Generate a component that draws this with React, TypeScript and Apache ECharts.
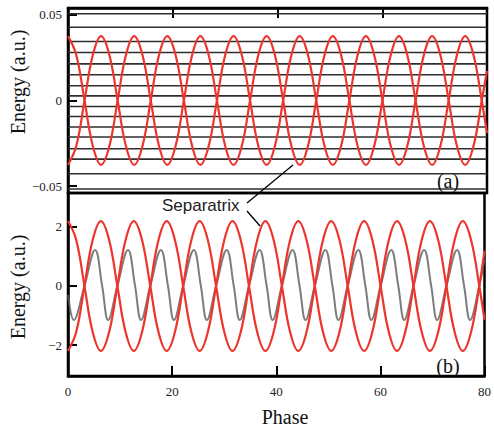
import React, { useEffect, useRef } from "react";
import * as echarts from "echarts";

// Phase sample points (quarter half-period steps) for the separatrix curves
const phaseGrid = [
  0, 1.58, 3.16, 4.74, 6.32, 7.9, 9.48, 11.06, 12.64, 14.22, 15.8, 17.38, 18.96,
  20.54, 22.12, 23.7, 25.28, 26.86, 28.44, 30.02, 31.6, 33.18, 34.76, 36.34,
  37.92, 39.5, 41.08, 42.66, 44.24, 45.82, 47.4, 48.98, 50.56, 52.14, 53.72,
  55.3, 56.88, 58.46, 60.04, 61.62, 63.2, 64.78, 66.36, 67.94, 69.52, 71.1,
  72.68, 74.26, 75.84, 77.42, 79.0, 80,
];

// (a) separatrix, upper-starting and lower-starting branches
const sepTopUpper = [
  0.0376, 0.0266, 0, -0.0266, -0.0376, -0.0266, 0, 0.0266,
  0.0376, 0.0266, 0, -0.0266, -0.0376, -0.0266, 0, 0.0266,
  0.0376, 0.0266, 0, -0.0266, -0.0376, -0.0266, 0, 0.0266,
  0.0376, 0.0266, 0, -0.0266, -0.0376, -0.0266, 0, 0.0266,
  0.0376, 0.0266, 0, -0.0266, -0.0376, -0.0266, 0, 0.0266,
  0.0376, 0.0266, 0, -0.0266, -0.0376, -0.0266, 0, 0.0266,
  0.0376, 0.0266, 0, -0.019,
];
const sepTopLower = [
  -0.0376, -0.0266, 0, 0.0266, 0.0376, 0.0266, 0, -0.0266,
  -0.0376, -0.0266, 0, 0.0266, 0.0376, 0.0266, 0, -0.0266,
  -0.0376, -0.0266, 0, 0.0266, 0.0376, 0.0266, 0, -0.0266,
  -0.0376, -0.0266, 0, 0.0266, 0.0376, 0.0266, 0, -0.0266,
  -0.0376, -0.0266, 0, 0.0266, 0.0376, 0.0266, 0, -0.0266,
  -0.0376, -0.0266, 0, 0.0266, 0.0376, 0.0266, 0, -0.0266,
  -0.0376, -0.0266, 0, 0.0174,
];

// (b) separatrix
const sepBotUpper = [
  2.2, 1.56, 0, -1.56, -2.2, -1.56, 0, 1.56,
  2.2, 1.56, 0, -1.56, -2.2, -1.56, 0, 1.56,
  2.2, 1.56, 0, -1.56, -2.2, -1.56, 0, 1.56,
  2.2, 1.56, 0, -1.56, -2.2, -1.56, 0, 1.56,
  2.2, 1.56, 0, -1.56, -2.2, -1.56, 0, 1.56,
  2.2, 1.56, 0, -1.56, -2.2, -1.56, 0, 1.56,
  2.2, 1.56, 0, -1.15,
];
const sepBotLower = [
  -2.2, -1.56, 0, 1.56, 2.2, 1.56, 0, -1.56,
  -2.2, -1.56, 0, 1.56, 2.2, 1.56, 0, -1.56,
  -2.2, -1.56, 0, 1.56, 2.2, 1.56, 0, -1.56,
  -2.2, -1.56, 0, 1.56, 2.2, 1.56, 0, -1.56,
  -2.2, -1.56, 0, 1.56, 2.2, 1.56, 0, -1.56,
  -2.2, -1.56, 0, 1.56, 2.2, 1.56, 0, -1.56,
  -2.2, -1.56, 0, 1.2,
];

// (a) trajectory energy levels (flat lines)
const trajectoryLevels = [
  0.0506, 0.0428, 0.0344, 0.028, 0.0214, 0.015, 0.0086, 0.0027, -0.0035,
  -0.0093, -0.0155, -0.0213, -0.0282, -0.0342, -0.0428, -0.0517,
];

// (b) particle trajectory (phase, energy) key points
const particlePhase = [
  0, 1.1,
  3.16, 5.21, 6.56, 7.71,
  9.48, 11.53, 12.88, 14.03,
  15.8, 17.85, 19.2, 20.35,
  22.12, 24.17, 25.52, 26.67,
  28.44, 30.49, 31.84, 32.99,
  34.76, 36.81, 38.16, 39.31,
  41.08, 43.13, 44.48, 45.63,
  47.4, 49.45, 50.8, 51.95,
  53.72, 55.77, 57.12, 58.27,
  60.04, 62.09, 63.44, 64.59,
  66.36, 68.41, 69.76, 70.91,
  72.68, 74.73, 76.08, 77.23,
  79.0, 80,
];
const particleEnergy = [
  -0.3, -1.15,
  0, 1.22, 0, -1.15,
  0, 1.22, 0, -1.15,
  0, 1.22, 0, -1.15,
  0, 1.22, 0, -1.15,
  0, 1.22, 0, -1.15,
  0, 1.22, 0, -1.15,
  0, 1.22, 0, -1.15,
  0, 1.22, 0, -1.15,
  0, 1.22, 0, -1.15,
  0, 1.22, 0, -1.15,
  0, 1.22, 0, -1.15,
  0, 1.22, 0, -1.15,
  0, 0.9,
];

const yTicksTop = [-0.05, 0, 0.05];
const yTicksBottom = [-2, 0, 2];

const serif = '"Liberation Serif", "Times New Roman", Times, serif';
const sans = '"Liberation Sans", Arial, Helvetica, sans-serif';
const RED = "#ec352c";

function fmt(v: number) {
  if (v === 0) return "0";
  return (v < 0 ? "\u2212" : "") + String(Math.abs(v));
}

export default function App() {
  const ref = useRef<HTMLDivElement>(null);
  useEffect(() => {
    document.body.style.margin = "0";
    if (!ref.current) return;
    const chart = echarts.init(ref.current, undefined, { renderer: "svg" });
    const axisLine = { show: true, onZero: false, lineStyle: { color: "#000", width: 2.5 } };
    const tick = { show: true, inside: true, length: 10, lineStyle: { color: "#000", width: 2 } };
    const zip = (xs: number[], ys: number[]) => xs.map((x, i) => [x, ys[i]]);

    const series: any[] = [];
    trajectoryLevels.forEach((lv) => {
      series.push({
        type: "line",
        xAxisIndex: 0,
        yAxisIndex: 0,
        data: [[0, lv], [80, lv]],
        symbol: "none",
        silent: true,
        lineStyle: { color: "#2e2e2e", width: 1.6 },
        z: 2,
      });
    });
    [sepTopUpper, sepTopLower].forEach((ys) =>
      series.push({
        type: "line",
        xAxisIndex: 0,
        yAxisIndex: 0,
        data: zip(phaseGrid, ys),
        symbol: "none",
        smooth: 0.4,
        silent: true,
        lineStyle: { color: RED, width: 2.2 },
        z: 3,
      })
    );
    series.push({
      type: "line",
      xAxisIndex: 1,
      yAxisIndex: 1,
      data: zip(particlePhase, particleEnergy),
      symbol: "none",
      smooth: 0.4,
      silent: true,
      lineStyle: { color: "#5c5c5c", width: 2, opacity: 0.8 },
      z: 2,
    });
    [sepBotUpper, sepBotLower].forEach((ys) =>
      series.push({
        type: "line",
        xAxisIndex: 1,
        yAxisIndex: 1,
        data: zip(phaseGrid, ys),
        symbol: "none",
        smooth: 0.4,
        silent: true,
        lineStyle: { color: RED, width: 2.2 },
        z: 3,
      })
    );

    chart.setOption({
      animation: false,
      backgroundColor: "#fff",
      grid: [
        { left: 68, right: 7, top: 8, height: 185, show: true, borderColor: "#000", borderWidth: 2.5 },
        { left: 68, right: 7, top: 193, height: 183, show: true, borderColor: "#000", borderWidth: 2.5 },
      ],
      xAxis: [
        {
          type: "value", gridIndex: 0, min: 0, max: 80, interval: 20, position: "top",
          axisLine, axisTick: tick, axisLabel: { show: false }, splitLine: { show: false },
        },
        {
          type: "value", gridIndex: 1, min: 0, max: 80, interval: 20, position: "bottom",
          axisLine, axisTick: tick,
          axisLabel: { show: true, color: "#222", fontFamily: serif, fontSize: 13, margin: 9 },
          splitLine: { show: false },
        },
      ],
      yAxis: [
        {
          type: "value", gridIndex: 0, min: -0.054, max: 0.054,
          axisLine, axisTick: { ...tick, length: 9, customValues: yTicksTop },
          axisLabel: { customValues: yTicksTop, formatter: fmt, color: "#222", fontFamily: serif, fontSize: 13, margin: 6 },
          splitLine: { show: false },
        },
        {
          type: "value", gridIndex: 1, min: -3.05, max: 3.15,
          axisLine, axisTick: { ...tick, length: 9, customValues: yTicksBottom },
          axisLabel: { customValues: yTicksBottom, formatter: fmt, color: "#222", fontFamily: serif, fontSize: 13, margin: 6 },
          splitLine: { show: false },
        },
      ],
      series,
      graphic: [
        {
          type: "text", x: 18, y: 82, rotation: Math.PI / 2, z: 10,
          style: { text: "Energy (a.u.)", fontFamily: serif, fontSize: 20, fill: "#111", align: "center", verticalAlign: "middle" },
        },
        {
          type: "text", x: 18, y: 287, rotation: Math.PI / 2, z: 10,
          style: { text: "Energy (a.u.)", fontFamily: serif, fontSize: 20, fill: "#111", align: "center", verticalAlign: "middle" },
        },
        {
          type: "text", x: 285, y: 417, z: 10,
          style: { text: "Phase", fontFamily: serif, fontSize: 20, fill: "#111", align: "center", verticalAlign: "middle" },
        },
        {
          type: "text", x: 448, y: 181, z: 10,
          style: { text: "(a)", fontFamily: serif, fontSize: 20, fill: "#111", align: "center", verticalAlign: "middle" },
        },
        {
          type: "text", x: 448, y: 366, z: 10,
          style: { text: "(b)", fontFamily: serif, fontSize: 20, fill: "#111", align: "center", verticalAlign: "middle" },
        },
        {
          type: "text", x: 162, y: 205, z: 10,
          style: { text: "Separatrix", fontFamily: sans, fontSize: 17, fill: "#222", align: "left", verticalAlign: "middle" },
        },
        {
          type: "line", z: 10,
          shape: { x1: 247, y1: 203, x2: 293, y2: 165 },
          style: { stroke: "#000", lineWidth: 1.3 },
        },
        {
          type: "line", z: 10,
          shape: { x1: 247, y1: 211, x2: 260, y2: 226 },
          style: { stroke: "#000", lineWidth: 1.3 },
        },
      ],
    });
    return () => chart.dispose();
  }, []);
  return <div ref={ref} style={{ width: 494, height: 430 }} />;
}
